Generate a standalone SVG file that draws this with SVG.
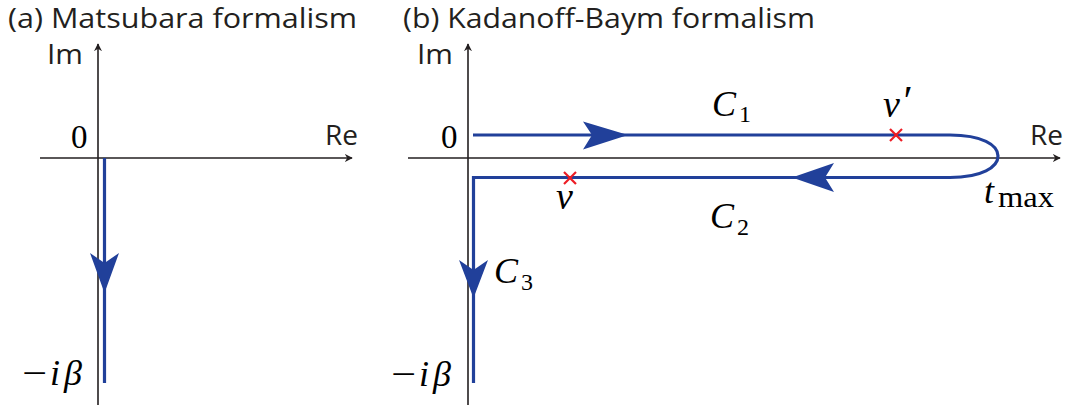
<svg xmlns="http://www.w3.org/2000/svg" width="1068" height="406" viewBox="0 0 1068 406">
<defs>
<style>
.title{font-family:"Open Sans","Noto Sans",sans-serif;font-size:27px;fill:#231f20}
.axl{font-family:"Open Sans","Noto Sans",sans-serif;font-size:28px;fill:#231f20}
.m{font-family:"Liberation Serif",serif;font-style:italic;font-size:36px;fill:#000}
.n{font-family:"Liberation Serif",serif;font-size:33px;fill:#000}
.sub{font-family:"Liberation Serif",serif;font-style:normal;font-size:24px}
.axis{stroke:#231f20;stroke-width:1.6;fill:none}
.path{stroke:#21409a;stroke-width:3.2;fill:none}
.arr{fill:#21409a}
.x{stroke:#ed1c24;stroke-width:2.2}
</style>
<marker id="ah" viewBox="0 0 10 10" refX="9" refY="5" markerWidth="8" markerHeight="8" markerUnits="userSpaceOnUse" orient="auto">
<path d="M0,0 L10,5 L0,10 L3,5 Z" fill="#231f20"/>
</marker>
</defs>

<g id="panel-a">
<text class="title" x="8" y="28" textLength="349" lengthAdjust="spacingAndGlyphs">(a) Matsubara formalism</text>
<g id="axes-a">
<line class="axis" x1="98" y1="405" x2="98" y2="44" marker-end="url(#ah)"/>
<line class="axis" x1="40" y1="158" x2="352" y2="158" marker-end="url(#ah)"/>
<text class="axl" x="47" y="64" textLength="36" lengthAdjust="spacingAndGlyphs">Im</text>
<text class="axl" x="325" y="145" textLength="33" lengthAdjust="spacingAndGlyphs">Re</text>
<text class="n" x="71" y="148">0</text>
<text class="m" y="385"><tspan x="22" font-style="normal" textLength="25" lengthAdjust="spacingAndGlyphs">−</tspan><tspan x="50">i</tspan><tspan x="64">β</tspan></text>
</g>
</g>

<g id="panel-b">
<text class="title" x="403" y="28" textLength="412" lengthAdjust="spacingAndGlyphs">(b) Kadanoff-Baym formalism</text>
<g id="axes-b">
<line class="axis" x1="468" y1="405" x2="468" y2="44" marker-end="url(#ah)"/>
<line class="axis" x1="408" y1="158" x2="1060" y2="158" marker-end="url(#ah)"/>
<text class="axl" x="417" y="64" textLength="36" lengthAdjust="spacingAndGlyphs">Im</text>
<text class="axl" x="1030" y="145" textLength="33" lengthAdjust="spacingAndGlyphs">Re</text>
<text class="n" x="441" y="148">0</text>
<text class="m" y="386"><tspan x="391" font-style="normal" textLength="25" lengthAdjust="spacingAndGlyphs">−</tspan><tspan x="419">i</tspan><tspan x="433">β</tspan></text>
</g>
</g>

<g id="connectors">
<line class="path" x1="104.5" y1="158" x2="104.5" y2="383"/>
<path class="arr" d="M104.5,293 L90,253 L104.5,263 L119,253 Z"/>

<path class="path" d="M473,135 L950,135 C982,135 998,145 998,156 C998,167 982,177.5 950,177.5 L473.5,177.5 L473.5,383"/>
<path class="arr" d="M628,135 L583,121.5 L592,135 L583,149.5 Z"/>
<path class="arr" d="M792,177.5 L834,163 L825,177.5 L834,192 Z"/>
<path class="arr" d="M473.5,298 L459,260 L473.5,270 L488,260 Z"/>
</g>

<g id="marks">
<g id="nu-prime">
<line class="x" x1="890" y1="129" x2="902" y2="141"/>
<line class="x" x1="902" y1="129" x2="890" y2="141"/>
<text class="m" x="883" y="117" style="font-size:38px">ν<tspan style="font-size:42px" dx="1" dy="-2">′</tspan></text>
</g>
<g id="nu">
<line class="x" x1="564" y1="172" x2="576" y2="184"/>
<line class="x" x1="576" y1="172" x2="564" y2="184"/>
<text class="m" x="556" y="209" style="font-size:38px">ν</text>
</g>
<g id="labels">
<text class="m" x="712" y="116">C<tspan class="sub" dx="3" dy="6">1</tspan></text>
<text class="m" x="710" y="228">C<tspan class="sub" dx="3" dy="7">2</tspan></text>
<text class="m" x="494" y="283">C<tspan class="sub" dx="3" dy="7">3</tspan></text>
<text class="m" x="984" y="203">t<tspan class="sub" style="font-size:29px" dx="4" dy="4" textLength="56" lengthAdjust="spacingAndGlyphs">max</tspan></text>
</g>
</g>
</svg>
